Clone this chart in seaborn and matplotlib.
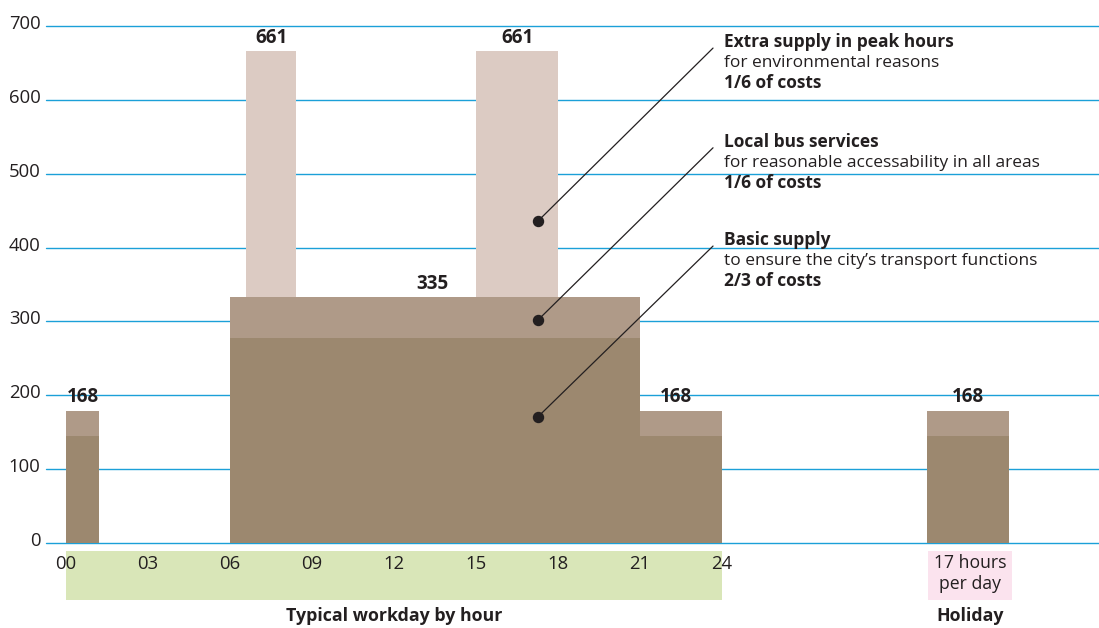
import matplotlib
matplotlib.use('Agg')
import matplotlib.pyplot as plt
import matplotlib.transforms as mtrans
from matplotlib.patches import Rectangle
import seaborn as sns

# ── Data ────────────────────────────────────────────────
seg_start = [0, 6, 21, 31.5]          # hour where each block starts (holiday block off to the right)
seg_width = [1.2, 15, 3, 3]
basic = [145, 278, 145, 145]          # basic supply
local = [34, 55, 34, 34]              # local bus services on top
peak_start = [6.6, 15]
peak_width = [1.8, 3]
peak_base = [333, 333]
peak_extra = [333, 333]               # extra supply in peak hours

value_labels = ['168', '661', '335', '661', '168', '168']
value_x = [0.6, 7.5, 13.4, 16.5, 22.3, 33]
value_y = [179, 666, 333, 666, 179, 179]

hour_ticks = [0, 3, 6, 9, 12, 15, 18, 21, 24]
hour_labels = ['00', '03', '06', '09', '12', '15', '18', '21', '24']
y_ticks = [0, 100, 200, 300, 400, 500, 600, 700]

notes = [
    ('Extra supply in peak hours', 'for environmental reasons', '1/6 of costs'),
    ('Local bus services', 'for reasonable accessability in all areas', '1/6 of costs'),
    ('Basic supply', 'to ensure the city\u2019s transport functions', '2/3 of costs'),
]
dot_x = [17.27, 17.27, 17.27]
dot_y = [436, 302, 171]
note_y = [678, 543, 410]

# ── Style ───────────────────────────────────────────────
sns.set_theme(style='white')
plt.rcParams['font.family'] = ['Open Sans', 'DejaVu Sans']
INK = '#231f20'
GRID = '#1ba0d8'
C_BASIC = '#9c886f'
C_LOCAL = '#af9a88'
C_EXTRA = '#dccbc3'
C_GREEN = '#d9e6b8'
C_PINK = '#fbe3ee'

fig = plt.figure(figsize=(10.99, 6.28), dpi=100)
ax = fig.add_axes([46/1099, 85/628, 1053/1099, 523/628])
ax.set_xlim(-0.732, 37.79)
ax.set_ylim(0, 708)

# bars
ax.bar(seg_start, basic, width=seg_width, align='edge', color=C_BASIC, linewidth=0, zorder=2)
ax.bar(seg_start, local, width=seg_width, bottom=basic, align='edge', color=C_LOCAL, linewidth=0, zorder=2)
ax.bar(peak_start, peak_extra, width=peak_width, bottom=peak_base, align='edge', color=C_EXTRA, linewidth=0, zorder=2)

for txt, x, y in zip(value_labels, value_x, value_y):
    ax.text(x, y + 18, txt, ha='center', va='center', fontsize=13.5, fontweight='bold', color=INK)

# annotations
for (head, sub, cost), dx, dy, ny in zip(notes, dot_x, dot_y, note_y):
    ax.plot([dx, 23.67], [dy, ny - 8], color=INK, lw=0.9, zorder=4)
    ax.plot(dx, dy, 'o', color=INK, ms=7.2, zorder=5)
    ax.text(24.08, ny, head, fontsize=12.5, fontweight='bold', color=INK, va='center')
    ax.text(24.08, ny - 28, sub, fontsize=12.5, color=INK, va='center')
    ax.text(24.08, ny - 55, cost, fontsize=12.5, fontweight='bold', color=INK, va='center')

# band under the workday hours and holiday box
ax.add_patch(Rectangle((0, -77.2), 24, 66.4, color=C_GREEN, clip_on=False, zorder=0.1, lw=0))
ax.add_patch(Rectangle((31.54, -77.2), 3.08, 66.4, color=C_PINK, clip_on=False, zorder=0.1, lw=0))
ax.text(33.07, -27, '17 hours', ha='center', va='center', fontsize=12.7, color=INK, clip_on=False)
ax.text(33.07, -55.5, 'per day', ha='center', va='center', fontsize=12.7, color=INK, clip_on=False)
ax.text(12, -98.8, 'Typical workday by hour', ha='center', va='center', fontsize=12.8,
        fontweight='bold', color=INK, clip_on=False)
ax.text(33.07, -98.8, 'Holiday', ha='center', va='center', fontsize=12.8,
        fontweight='bold', color=INK, clip_on=False)

# axes
ax.set_xticks(hour_ticks, hour_labels)
ax.set_yticks(y_ticks)
ax.tick_params(axis='both', length=0, labelsize=13.3, labelcolor=INK)
ax.tick_params(axis='x', pad=8.5)
ax.tick_params(axis='y', pad=4)
for lab in ax.get_yticklabels():
    lab.set_transform(lab.get_transform() + mtrans.ScaledTranslation(0, 4/100, fig.dpi_scale_trans))
ax.yaxis.grid(True, color=GRID, lw=1)
for gl in ax.get_ygridlines():
    gl.set_clip_on(False)
ax.xaxis.grid(False)
ax.set_axisbelow(True)
sns.despine(ax=ax, left=True, bottom=True)
ax.set_facecolor('white')

fig.savefig('out.png', dpi=100, facecolor='white')
